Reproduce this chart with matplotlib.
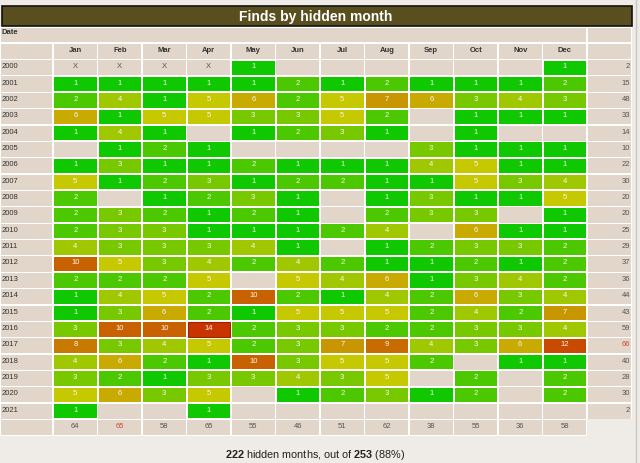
import matplotlib
matplotlib.use('Agg')
import matplotlib.pyplot as plt
from matplotlib.patches import Rectangle

plt.rcParams['font.family'] = ['Liberation Sans', 'DejaVu Sans']
plt.rcParams['mathtext.fontset'] = 'custom'
plt.rcParams['mathtext.rm'] = 'Liberation Sans'
plt.rcParams['mathtext.bf'] = 'Liberation Sans:bold'

title = 'Finds by hidden month'
months = ['Jan', 'Feb', 'Mar', 'Apr', 'May', 'Jun', 'Jul', 'Aug', 'Sep', 'Oct', 'Nov', 'Dec']
years = list(range(2000, 2022))

# None = empty cell, 'X' = month not available
counts = [
    ['X', 'X', 'X', 'X', 1, None, None, None, None, None, None, 1],
    [1, 1, 1, 1, 1, 2, 1, 2, 1, 1, 1, 2],
    [2, 4, 1, 5, 6, 2, 5, 7, 6, 3, 4, 3],
    [6, 1, 5, 5, 3, 3, 5, 2, None, 1, 1, 1],
    [1, 4, 1, None, 1, 2, 3, 1, None, 1, None, None],
    [None, 1, 2, 1, None, None, None, None, 3, 1, 1, 1],
    [1, 3, 1, 1, 2, 1, 1, 1, 4, 5, 1, 1],
    [5, 1, 2, 3, 1, 2, 2, 1, 1, 5, 3, 4],
    [2, None, 1, 2, 3, 1, None, 1, 3, 1, 1, 5],
    [2, 3, 2, 1, 2, 1, None, 2, 3, 3, None, 1],
    [2, 3, 3, 1, 1, 1, 2, 4, None, 6, 1, 1],
    [4, 3, 3, 3, 4, 1, None, 1, 2, 3, 3, 2],
    [10, 5, 3, 4, 2, 4, 2, 1, 1, 2, 1, 2],
    [2, 2, 2, 5, None, 5, 4, 6, 1, 3, 4, 2],
    [1, 4, 5, 2, 10, 2, 1, 4, 2, 6, 3, 4],
    [1, 3, 6, 2, 1, 5, 5, 5, 2, 4, 2, 7],
    [3, 10, 10, 14, 2, 3, 3, 2, 2, 3, 3, 4],
    [8, 3, 4, 5, 2, 3, 7, 9, 4, 3, 6, 12],
    [4, 6, 2, 1, 10, 3, 5, 5, 2, None, 1, 1],
    [3, 2, 1, 3, 3, 4, 3, 5, None, 2, None, 2],
    [5, 6, 3, 5, None, 1, 2, 3, 1, 2, None, 2],
    [1, None, None, 1, None, None, None, None, None, None, None, None],
]
row_totals = [2, 15, 48, 33, 14, 10, 22, 30, 20, 20, 25, 29, 37, 36, 44, 43, 59, 66, 40, 28, 30, 2]
col_totals = [64, 65, 58, 65, 55, 46, 51, 62, 38, 55, 36, 58]
hidden = 222
total_months = 253

# colour per count
cell_colors = {1: '#10c800', 2: '#4cc800', 3: '#78c800', 4: '#a0c800', 5: '#c6c800',
               6: '#c8aa00', 7: '#c89600', 8: '#c87a00', 9: '#c86c00', 10: '#c86200',
               12: '#c84a00', 14: '#c83400'}

page_bg = '#efebe7'
cell_bg = '#e2d6ca'
txt_dark = '#333333'
txt_gray = '#555555'
txt_red = '#d04a30'

fig = plt.figure(figsize=(6.4, 4.64), dpi=100, facecolor=page_bg)
ax = fig.add_axes([0, 0, 1, 1])
ax.set_xlim(0, 640)
ax.set_ylim(464, 0)
ax.axis('off')

# layout (pixels)
year_w = 53
col_w = 44.5
x_months = year_w
x_total = year_w + 12 * col_w
total_w = 45
y_date = 28
y_head = 44
y_rows = 60.5
row_h = 16.36


def cell(x, y, w, h, color, inset=0.6, edge=None):
    ax.add_patch(Rectangle((x + inset, y + inset), w - 2 * inset, h - 2 * inset,
                           facecolor=color, edgecolor=edge or 'none', lw=0.8))


# white grid under the table
ax.add_patch(Rectangle((0, y_date - 1), x_total + total_w, y_rows + len(years) * row_h - y_date + 1,
                       facecolor='white', edgecolor='none'))
ax.add_patch(Rectangle((0, y_rows + len(years) * row_h), x_total, row_h, facecolor='white', edgecolor='none'))

# title bar
ax.add_patch(Rectangle((1.5, 7), 630.5, 20, facecolor='#594f1e', edgecolor='#111111', lw=1.2))
ax.text(316, 17, title, color='white', fontsize=10, fontweight='bold', ha='center', va='center')

# Date row and header row
cell(0, y_date, x_total, y_head - y_date, cell_bg)
cell(x_total, y_date, total_w, y_head - y_date, cell_bg)
ax.text(2, 33, 'Date', color=txt_dark, fontsize=5.5, fontweight='bold', ha='left', va='center')
cell(0, y_head, year_w, y_rows - y_head, cell_bg)
cell(x_total, y_head, total_w, y_rows - y_head, cell_bg)
for j, m in enumerate(months):
    x = x_months + j * col_w
    cell(x, y_head, col_w, y_rows - y_head, cell_bg)
    ax.text(x + col_w / 2, y_head + 6.5, m, color=txt_dark, fontsize=5.5, fontweight='bold',
            ha='center', va='center')

# data rows
max_row = max(row_totals)
for i, yr in enumerate(years):
    y = y_rows + i * row_h
    cell(0, y, year_w, row_h, cell_bg)
    ax.text(2, y + row_h / 2 - 2, str(yr), color=txt_dark, fontsize=5.5, ha='left', va='center')
    for j, v in enumerate(counts[i]):
        x = x_months + j * col_w
        if v is None or v == 'X':
            cell(x, y, col_w, row_h, cell_bg)
            if v == 'X':
                ax.text(x + col_w / 2, y + row_h / 2 - 2, 'X', color=txt_gray, fontsize=5.5,
                        ha='center', va='center')
        else:
            edge = '#a02000' if v == 14 else None
            cell(x, y, col_w, row_h, cell_colors[v], inset=1.0, edge=edge)
            ax.text(x + col_w / 2, y + row_h / 2 - 2, str(v), color='#f6f6f6', fontsize=5.5,
                    ha='center', va='center')
    cell(x_total, y, total_w, row_h, cell_bg)
    ax.text(x_total + total_w - 2, y + row_h / 2 - 2, str(row_totals[i]),
            color=txt_red if row_totals[i] == max_row else txt_gray,
            fontsize=5.5, ha='right', va='center')

# column totals
y = y_rows + len(years) * row_h
cell(0, y, year_w, row_h, cell_bg)
max_col = max(col_totals)
first_max = col_totals.index(max_col)
for j, t in enumerate(col_totals):
    x = x_months + j * col_w
    cell(x, y, col_w, row_h, cell_bg)
    ax.text(x + col_w / 2, y + row_h / 2 - 2, str(t), color=txt_red if j == first_max else txt_gray,
            fontsize=5.5, ha='center', va='center')

# footer
pct = round(100 * hidden / total_months)
ax.text(315, 455.5, r'$\mathbf{%d}$ hidden months, out of $\mathbf{%d}$ (%d%%)' % (hidden, total_months, pct),
        color='#222222', fontsize=7.8, ha='center', va='center')

# page frame line on the right
ax.plot([635.5, 635.5], [0, 464], color='#c9c5c1', lw=1)

fig.savefig('out.png', dpi=100, facecolor=page_bg)
